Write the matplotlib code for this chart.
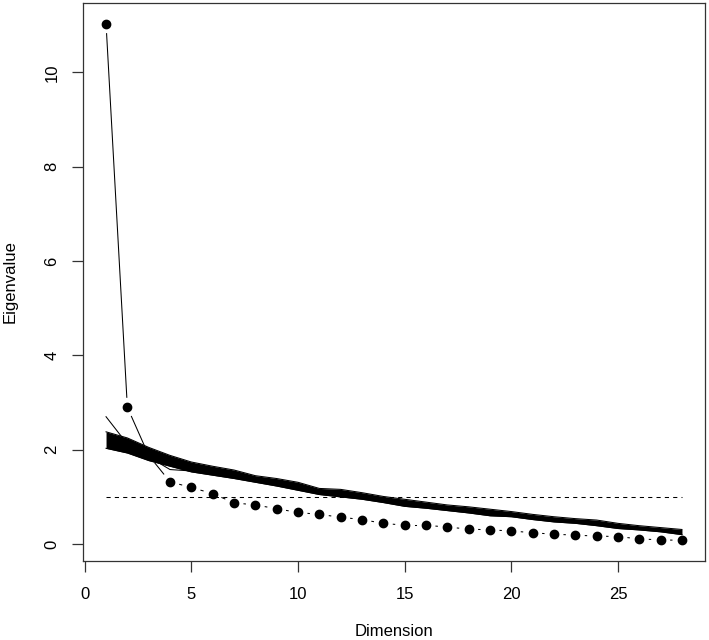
import numpy as np
import matplotlib
matplotlib.use("Agg")
import matplotlib.pyplot as plt

plt.rcParams['font.family'] = ['Liberation Sans', 'DejaVu Sans']

# ---- data ----
dims = list(range(1, 29))
observed = [11.03, 2.90, 1.88, 1.32, 1.20, 1.07, 0.875, 0.83, 0.75, 0.67,
            0.63, 0.57, 0.52, 0.44, 0.40, 0.40, 0.36, 0.32, 0.30, 0.28,
            0.24, 0.21, 0.19, 0.17, 0.16, 0.11, 0.09, 0.08]
# envelope of the simulated (random-data) eigenvalue lines
sim_upper = [2.38, 2.25, 2.05, 1.88, 1.74, 1.65, 1.57, 1.45, 1.39, 1.31,
             1.18, 1.16, 1.09, 1.01, 0.95, 0.89, 0.83, 0.79, 0.74, 0.69,
             0.63, 0.58, 0.54, 0.51, 0.44, 0.39, 0.35, 0.31]
sim_lower = [2.03, 1.93, 1.77, 1.65, 1.53, 1.46, 1.39, 1.31, 1.23, 1.14,
             1.05, 1.00, 0.95, 0.88, 0.80, 0.76, 0.71, 0.66, 0.60, 0.58,
             0.52, 0.47, 0.44, 0.39, 0.33, 0.30, 0.26, 0.20]
# individual simulated lines that stray outside the envelope
sim_high_dims = [1, 2, 3]
sim_high = [2.70, 2.12, 1.92]
sim_dip_dims = [3, 4, 5, 6]
sim_dip = [1.85, 1.58, 1.55, 1.50]
kaiser = 1.0
xticks = [0, 5, 10, 15, 20, 25]
yticks = [0, 2, 4, 6, 8, 10]

# ---- figure ----
fig = plt.figure(figsize=(7.09, 6.40), dpi=100)
ax = fig.add_axes([83 / 709, 79 / 640, 622 / 709, 558 / 640])

# R-style 4% axis expansion
xmin, xmax = min(dims), max(dims)
allv = observed + sim_upper + sim_lower + sim_high
ymin, ymax = min(allv), max(allv)
ax.set_xlim(xmin - 0.04 * (xmax - xmin), xmax + 0.04 * (xmax - xmin))
ax.set_ylim(ymin - 0.04 * (ymax - ymin), ymax + 0.04 * (ymax - ymin))

lw = 0.75
# simulated band (drawn over the observed series, as in the original)
ax.fill_between(dims, sim_lower, sim_upper, color='black', lw=0, zorder=4)
ax.plot(dims, sim_upper, color='black', lw=lw, zorder=4)
ax.plot(dims, sim_lower, color='black', lw=lw, zorder=4)
ax.plot(sim_high_dims, sim_high, color='black', lw=lw, zorder=4)
ax.plot(sim_dip_dims, sim_dip, color='black', lw=lw, zorder=4)

# Kaiser criterion line
ax.plot([dims[0], dims[-1]], [kaiser, kaiser], color='black', lw=lw,
        linestyle=(0, (4, 4)), zorder=2)

# observed eigenvalues: R type="b" (points with gapped lines)
ax.plot(dims, observed, 'o', color='black', markersize=6.0, zorder=3)
fig.canvas.draw()
T = ax.transData
inv = T.inverted()
pts = T.transform(np.column_stack([dims, observed]))
gap = 10.0
for i in range(len(pts) - 1):
    p0, p1 = pts[i], pts[i + 1]
    d = p1 - p0
    L = np.hypot(*d)
    if L > 2 * gap:
        u = d / L
        a = inv.transform(p0 + u * gap)
        b = inv.transform(p1 - u * gap)
        ax.plot([a[0], b[0]], [a[1], b[1]], color='black', lw=lw, zorder=3)

# axes styling
for s in ax.spines.values():
    s.set_color('#333333')
    s.set_linewidth(0.9)
ax.set_xticks(xticks)
ax.set_yticks(yticks)
ax.tick_params(axis='both', length=8, width=0.9, color='#333333',
               labelsize=12)
ax.tick_params(axis='x', pad=10.5)
ax.tick_params(axis='y', pad=9, labelrotation=90)
for t in ax.get_yticklabels():
    t.set_va('center')
ax.set_xlabel('Dimension', fontsize=12, labelpad=16)
ax.set_ylabel('Eigenvalue', fontsize=12, labelpad=19)

fig.savefig('out.png', dpi=100)
